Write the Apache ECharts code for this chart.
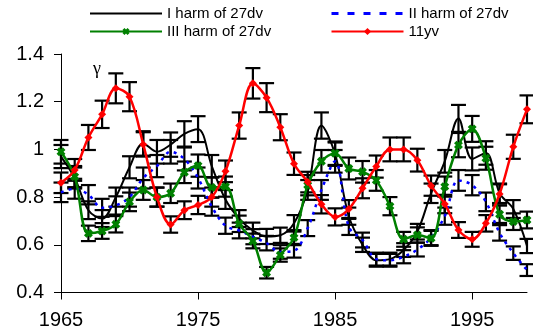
<!DOCTYPE html>
<html>
<head>
<meta charset="utf-8">
<script src="https://cdn.jsdelivr.net/npm/echarts@6/dist/echarts.min.js"></script>
<style>
html, body { margin: 0; padding: 0; background: #fff; }
#main { width: 533px; height: 336px; }
</style>
</head>
<body>
<div id="main"></div>
<script>
// years of the observations
var years = [1965, 1966, 1967, 1968, 1969, 1970, 1971, 1972, 1973, 1974,
	1975, 1976, 1977, 1978, 1979, 1980, 1981, 1982, 1983, 1984,
	1985, 1986, 1987, 1988, 1989, 1990, 1991, 1992, 1993, 1994,
	1995, 1996, 1997, 1998, 1999];
var xTicks = [1965, 1975, 1985, 1995];

// I harm of 27dv
var harm1 = [0.97, 0.88, 0.745, 0.71, 0.80, 0.925, 1.025, 0.99, 1.02, 1.065,
	1.085, 0.93, 0.79, 0.71, 0.66, 0.635, 0.64, 0.69, 0.83, 1.10,
	0.98, 0.72, 0.60, 0.535, 0.54, 0.578, 0.655, 0.816, 0.95, 1.13,
	0.96, 0.985, 0.816, 0.75, 0.595];
// II harm of 27dv
var harm2 = [0.82, 0.835, 0.81, 0.755, 0.765, 0.80, 0.88, 0.93, 0.99, 0.96,
	0.88, 0.76, 0.68, 0.66, 0.634, 0.607, 0.57, 0.575, 0.67, 0.83,
	0.95, 0.675, 0.62, 0.54, 0.535, 0.55, 0.58, 0.63, 0.72, 0.87,
	0.85, 0.78, 0.65, 0.565, 0.494];
// III harm of 27dv
var harm3 = [0.99, 0.886, 0.648, 0.658, 0.686, 0.78, 0.83, 0.80, 0.816, 0.904,
	0.932, 0.84, 0.844, 0.688, 0.616, 0.483, 0.557, 0.63, 0.85, 0.95,
	0.984, 0.92, 0.906, 0.87, 0.762, 0.623, 0.641, 0.627, 0.844, 1.018,
	1.086, 0.963, 0.728, 0.697, 0.704];
// 11yv
var yv11 = [0.86, 0.914, 1.05, 1.147, 1.256, 1.221, 1.021, 0.80, 0.685, 0.745,
	0.767, 0.80, 0.908, 1.10, 1.277, 1.217, 1.093, 0.94, 0.863, 0.77,
	0.717, 0.75, 0.837, 0.928, 1.00, 1.00, 0.955, 0.848, 0.771, 0.662,
	0.623, 0.69, 0.813, 1.011, 1.168];

// percentage error bars (5%)
var ERR_PCT = 0.05;

var FONT = '"Liberation Sans", Arial, sans-serif';
var X_SYMBOL = 'path://M3,0H7V3H10V7H7V10H3V7H0V3H3Z';

function pairs(vals) {
	return years.map(function(y, i) {
		return [y, vals[i]];
	});
}

//error bar series
function errSeries(vals) {
	return {
		type: 'custom',
		z: 1,
		silent: true,
		data: pairs(vals),
		renderItem: function(params, api) {
			var x = api.value(0);
			var v = api.value(1);
			var top = api.coord([x, v * (1 + ERR_PCT)]);
			var bot = api.coord([x, v * (1 - ERR_PCT)]);
			var hw = 7.5;
			var st = { stroke: '#000', lineWidth: 2.2 };
			return {
				type: 'group',
				children: [
					{ type: 'line', shape: { x1: top[0], y1: top[1], x2: bot[0], y2: bot[1] }, style: st },
					{ type: 'line', shape: { x1: top[0] - hw, y1: top[1], x2: top[0] + hw, y2: top[1] }, style: st },
					{ type: 'line', shape: { x1: bot[0] - hw, y1: bot[1], x2: bot[0] + hw, y2: bot[1] }, style: st }
				]
			};
		}
	};
}

var myChart = echarts.init(document.getElementById('main'), null, { renderer: 'canvas' });
var legendBase = {
	orient: 'vertical',
	top: 6,
	padding: 0,
	itemWidth: 72,
	itemHeight: 9,
	itemGap: 3,
	textStyle: { fontFamily: FONT, fontSize: 15, color: '#000' }
};
var option = {
	animation: false,
	backgroundColor: '#fff',
	grid: { left: 61, right: 6, top: 54, bottom: 43.5 },
	legend: [
		Object.assign({}, legendBase, { left: 89, data: [
			{ name: 'I harm of 27dv', itemStyle: { opacity: 0 } },
			'III harm of 27dv'
		] }),
		Object.assign({}, legendBase, { left: 330, data: [
			{ name: 'II harm of 27dv', itemStyle: { opacity: 0 }, lineStyle: { type: [7, 9], width: 3 } },
			'11yv'
		] })
	],
	graphic: [{
		type: 'text',
		left: 93,
		top: 60,
		style: { text: 'γ', fontFamily: '"Liberation Serif", "DejaVu Serif", serif', fontSize: 18, fill: '#000' }
	}],
	xAxis: {
		type: 'value',
		min: 1965,
		max: 1999,
		interval: 10,
		splitLine: { show: false },
		axisLine: { show: true, lineStyle: { color: '#000', width: 1 } },
		axisTick: { show: true, length: 7, customValues: xTicks, lineStyle: { color: '#000' } },
		axisLabel: {
			customValues: xTicks,
			margin: 18,
			fontFamily: FONT,
			fontSize: 20,
			color: '#000',
			formatter: function(val) {
				return String(val);
			}
		}
	},
	yAxis: {
		type: 'value',
		min: 0.4,
		max: 1.4,
		interval: 0.2,
		splitLine: { show: false },
		axisLine: { show: true, lineStyle: { color: '#000', width: 1 } },
		axisTick: { show: true, length: 7, lineStyle: { color: '#000' } },
		axisLabel: { margin: 17, fontFamily: FONT, fontSize: 20, color: '#000' }
	},
	series: [
		errSeries(harm1),
		errSeries(harm2),
		errSeries(harm3),
		errSeries(yv11),
		{
			name: 'I harm of 27dv',
			type: 'line',
			z: 2,
			smooth: 0.35,
			symbol: 'none',
			data: pairs(harm1),
			lineStyle: { color: '#000', width: 2 },
			itemStyle: { color: '#000' }
		}, {
			name: 'II harm of 27dv',
			type: 'line',
			z: 2,
			smooth: 0.35,
			symbol: 'none',
			data: pairs(harm2),
			lineStyle: { color: '#0000ff', width: 2.5, type: [3, 5] },
			itemStyle: { color: '#0000ff' }
		}, {
			name: 'III harm of 27dv',
			type: 'line',
			z: 3,
			smooth: 0.35,
			symbol: X_SYMBOL,
			symbolSize: 9,
			symbolRotate: 45,
			data: pairs(harm3),
			lineStyle: { color: '#008000', width: 2.5 },
			itemStyle: { color: '#008000' }
		}, {
			name: '11yv',
			type: 'line',
			z: 4,
			smooth: 0.35,
			symbol: 'diamond',
			symbolSize: 8,
			data: pairs(yv11),
			lineStyle: { color: '#ff0000', width: 2.5 },
			itemStyle: { color: '#ff0000' }
		}
	]
};
myChart.setOption(option);
</script>
</body>
</html>
